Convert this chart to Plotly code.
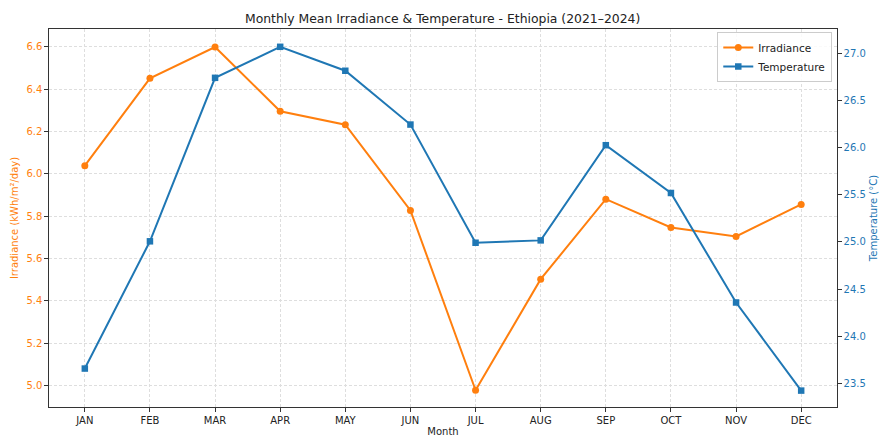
import plotly.graph_objects as go

months = ["JAN", "FEB", "MAR", "APR", "MAY", "JUN", "JUL", "AUG", "SEP", "OCT", "NOV", "DEC"]
irradiance = [6.039, 6.452, 6.600, 6.296, 6.233, 5.828, 4.978, 5.503, 5.881, 5.747, 5.705, 5.856]
temperature = [23.656, 25.006, 26.741, 27.07, 26.816, 26.245, 24.991, 25.016, 26.026, 25.519, 24.357, 23.422]

ORANGE = "#ff7f0e"
BLUE = "#1f77b4"
FONT = "DejaVu Sans"

fig = go.Figure()
fig.add_trace(go.Scatter(
    x=months, y=irradiance, name="Irradiance", mode="lines+markers",
    line=dict(color=ORANGE, width=2),
    marker=dict(symbol="circle", size=7, color=ORANGE),
    yaxis="y",
))
fig.add_trace(go.Scatter(
    x=months, y=temperature, name="Temperature", mode="lines+markers",
    line=dict(color=BLUE, width=2),
    marker=dict(symbol="square", size=6.5, color=BLUE),
    yaxis="y2",
))

grid = dict(showgrid=True, gridcolor="#dedede", griddash="3px,2px", gridwidth=0.8)

fig.update_layout(
    width=880, height=437,
    margin=dict(l=49, r=43, t=29, b=30),
    paper_bgcolor="white", plot_bgcolor="white",
    font=dict(family=FONT, size=10, color="#222222"),
    title=dict(text="Monthly Mean Irradiance & Temperature - Ethiopia (2021\u20132024)",
               x=0.503, xanchor="center", y=0.958, yanchor="middle",
               font=dict(size=12.4, color="#222222")),
    xaxis=dict(
        type="category", range=[-0.55, 11.55], automargin=False,
        title=dict(text="Month", standoff=3, font=dict(size=10)),
        showline=True, linecolor="#333333", linewidth=1.2, mirror=True,
        ticks="outside", ticklen=3.5, tickcolor="#333333",
        tickfont=dict(size=10, color="#222222"),
        zeroline=False, **grid,
    ),
    yaxis=dict(
        range=[4.899, 6.685], tickvals=[5.0, 5.2, 5.4, 5.6, 5.8, 6.0, 6.2, 6.4, 6.6],
        tickformat=".1f", automargin=False,
        title=dict(text="Irradiance (kWh/m\u00b2/day)", standoff=5, font=dict(size=10, color=ORANGE)),
        tickfont=dict(size=10, color=ORANGE),
        showline=True, linecolor="#333333", linewidth=1.2,
        ticks="outside", ticklen=3.5, tickcolor="#333333",
        zeroline=False, **grid,
    ),
    yaxis2=dict(
        range=[23.248, 27.259], tickvals=[23.5, 24.0, 24.5, 25.0, 25.5, 26.0, 26.5, 27.0],
        tickformat=".1f", automargin=False,
        overlaying="y", side="right",
        title=dict(text="Temperature (\u00b0C)", standoff=5, font=dict(size=10, color=BLUE)),
        tickfont=dict(size=10, color=BLUE),
        showline=True, linecolor="#333333", linewidth=1.2,
        ticks="outside", ticklen=3.5, tickcolor="#333333",
        showgrid=False, zeroline=False,
    ),
    legend=dict(
        x=0.994, xanchor="right", y=0.992, yanchor="top",
        bgcolor="rgba(255,255,255,0.85)", bordercolor="#cccccc", borderwidth=1,
        font=dict(size=10.5, color="#222222"),
        tracegroupgap=0, itemwidth=30,
    ),
    showlegend=True,
)

fig.write_html("out.html",
               config={"displayModeBar": False},
               post_script="document.body.style.margin='0';document.body.style.padding='0';")
